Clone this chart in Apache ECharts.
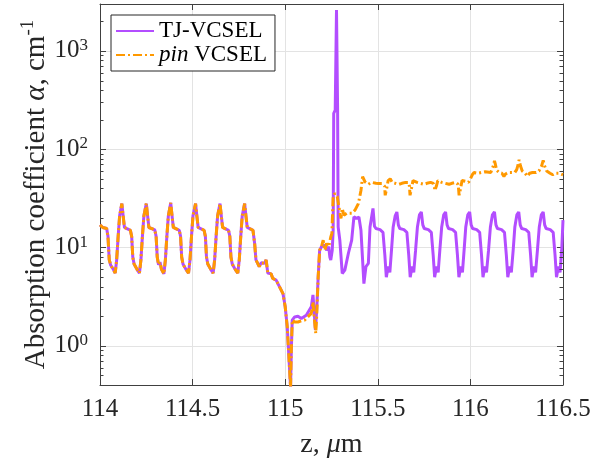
<!DOCTYPE html>
<html>
<head>
<meta charset="utf-8">
<script src="https://cdn.jsdelivr.net/npm/echarts@6/dist/echarts.min.js"></script>
<style>
html,body{margin:0;padding:0;background:#fff;}
#chart{width:607px;height:460px;}
</style>
</head>
<body>
<div id="chart"></div>
<script>
// ---- data: [z (µm), alpha (cm^-1)] ----
const sharedPts = [
[114.000,17],[114.015,16],[114.036,15.6],[114.043,13],[114.050,7.5],[114.058,6.6],[114.066,6.8],[114.074,5.9],[114.082,5.5],[114.090,7.5],[114.098,13],[114.106,21],[114.118,28],
[114.125,21],[114.132,16],[114.148,15.5],[114.164,15],[114.171,13],[114.177,8],[114.184,6.8],[114.192,7.0],[114.200,6.0],[114.213,5.5],[114.221,7.5],[114.229,13],[114.237,21],[114.250,28],
[114.257,21],[114.264,16],[114.280,15.6],[114.296,15.1],[114.303,13],[114.309,8],[114.316,6.7],[114.324,7.1],[114.332,6.0],[114.345,5.4],[114.353,7.5],[114.361,13],[114.369,21],[114.382,28.5],
[114.389,21],[114.396,16],[114.412,15.5],[114.428,15],[114.435,13],[114.441,8],[114.448,6.8],[114.456,7.0],[114.464,6.0],[114.478,5.5],[114.486,7.5],[114.494,13],[114.502,21],[114.516,28],
[114.523,21],[114.530,16],[114.546,15.5],[114.562,15],[114.569,13],[114.575,8],[114.582,6.8],[114.590,7.0],[114.598,6.0],[114.611,5.5],[114.619,7.5],[114.627,13],[114.635,21],[114.648,28],
[114.655,21],[114.662,16],[114.678,15.5],[114.694,15],[114.701,13],[114.707,8],[114.714,6.8],[114.722,7.0],[114.730,6.0],[114.744,5.5],[114.752,7.5],[114.760,13],[114.768,21],[114.781,28],
[114.788,21],[114.795,16],[114.811,15.5],[114.826,15],[114.835,11],[114.842,7.5],[114.852,7.45],[114.860,6.4],[114.870,7.0],[114.879,6.9],[114.888,6.9],[114.897,7.5],[114.902,7.75],[114.906,5.5],
[114.915,5.25],[114.924,5.4],[114.933,4.85],[114.951,4.66],[114.960,4.48],[114.988,3.4],[115.000,2.5],[115.011,1.56],[115.018,0.9],[115.026,0.48],[115.029,0.38],[115.033,0.9]
];

const tjPts = [
[115.038,1.83],[115.051,1.97],[115.069,2.0],[115.087,1.9],[115.114,2.05],[115.141,2.5],[115.150,3.3],[115.156,2.3],[115.163,1.45],[115.170,2.3],[115.178,5.0],[115.186,9.4],
[115.196,10.2],[115.205,9.8],[115.214,10.6],[115.223,9.4],[115.235,10.2],[115.241,8.0],[115.246,7.45],[115.250,7.4],[115.254,9.4],[115.259,15],[115.262,232],[115.270,250],
[115.277,2600],[115.283,250],[115.286,16.2],[115.295,11.9],[115.308,5.45],[115.322,5.9],[115.341,8.7],[115.359,11.9],[115.371,20.5],[115.386,19.8],[115.398,20.5],[115.409,15],
[115.425,4.3],[115.436,6.4],[115.449,6.9],[115.458,16.2],[115.474,25],
[115.482,16.5],[115.490,15.6],[115.512,15.2],[115.528,14.3],[115.538,8.4],[115.546,5.0],[115.556,6.4],[115.565,5.6],[115.574,9.4],[115.583,16.2],[115.594,21],[115.603,23],
[115.611,17],[115.619,15.6],[115.641,15.2],[115.657,14.3],[115.667,8.4],[115.675,5.0],[115.685,6.4],[115.694,5.6],[115.704,9.4],[115.714,16.2],[115.725,21.5],[115.735,23],
[115.743,17],[115.751,15.6],[115.773,15.2],[115.789,14.3],[115.799,8.4],[115.807,5.0],[115.817,6.4],[115.826,5.6],[115.835,9.4],[115.845,16.2],[115.856,21.5],[115.866,23],
[115.874,17],[115.882,15.6],[115.904,15.2],[115.920,14.3],[115.930,8.4],[115.938,5.0],[115.948,6.4],[115.957,5.6],[115.966,9.4],[115.975,16.2],[115.986,21.5],[115.996,23],
[116.004,17],[116.012,15.6],[116.034,15.2],[116.050,14.3],[116.060,8.4],[116.068,5.0],[116.078,6.4],[116.087,5.6],[116.098,9.4],[116.108,16.2],[116.119,21.5],[116.130,23],
[116.138,17],[116.146,15.6],[116.168,15.2],[116.184,14.3],[116.194,8.4],[116.202,5.0],[116.212,6.4],[116.221,5.6],[116.231,9.4],[116.240,16.2],[116.251,21.5],[116.261,23],
[116.269,17],[116.277,15.6],[116.299,15.2],[116.315,14.3],[116.325,8.4],[116.333,5.0],[116.343,6.4],[116.352,5.6],[116.362,9.4],[116.372,16.2],[116.383,21.5],[116.393,23],
[116.401,17],[116.409,15.6],[116.431,15.2],[116.447,14.3],[116.457,8.4],[116.465,5.0],[116.475,6.4],[116.484,5.6],[116.493,9.4],[116.500,19]
];

const pinPts = [
[115.038,1.83],[115.051,1.75],[115.069,1.75],[115.087,1.8],[115.105,1.83],[115.141,2.14],[115.150,2.8],[115.156,2.0],[115.165,1.34],[115.170,2.0],[115.178,5.0],[115.186,9.4],
[115.196,10.2],[115.205,11.9],[115.214,9.4],[115.223,11],[115.235,10.2],[115.246,12.8],[115.252,13.9],[115.259,33],[115.268,35.6],[115.281,33],[115.290,26],[115.301,19.8],
[115.308,25],[115.317,21.3],[115.332,22.3],[115.359,22.3],[115.377,24],[115.395,28],[115.409,38],[115.418,52.5],[115.431,46.6],[115.449,44],[115.467,46],[115.490,45],
[115.504,44.8],[115.522,44.8],[115.531,46],[115.537,42],[115.540,34],[115.548,40],[115.556,48],[115.567,50],[115.578,46],[115.595,45],[115.615,44],[115.630,45],[115.650,46],
[115.665,46],[115.671,42],[115.674,34],[115.682,40],[115.690,48],[115.700,50],[115.712,46],[115.730,45],[115.750,44],[115.765,45],[115.785,46],[115.800,45],[115.805,42],
[115.808,38],[115.816,42],[115.824,48],[115.833,50],[115.845,46],[115.865,45],[115.885,44],[115.900,45],[115.920,46],[115.933,44],[115.936,40],[115.939,34],[115.947,40],
[115.955,48],[115.965,50],[115.977,47],[115.990,46],[116.000,50],[116.010,55],[116.020,58],[116.040,57],[116.060,58],[116.080,59],[116.110,58],[116.120,60],[116.124,68],
[116.130,76],[116.135,70],[116.142,61],[116.155,58],[116.170,57],[116.181,53],[116.190,56],[116.205,58],[116.225,58],[116.240,58],[116.250,62],[116.258,70],[116.263,78],
[116.270,68],[116.280,60],[116.295,57],[116.308,53],[116.320,57],[116.335,58],[116.355,58],[116.370,60],[116.385,68],[116.393,77],[116.400,68],[116.412,60],[116.430,57],
[116.445,55],[116.460,57],[116.480,57],[116.500,55]
];

const seriesNames = ['TJ-VCSEL', 'pin VCSEL'];
const xTicks = [114, 114.5, 115, 115.5, 116, 116.5];
const yRange = [0.4, 3000];

// ---- chart ----
const SERIF = "'Liberation Serif','Times New Roman',serif";
const TXT = '#262626';
const AX = '#404040';
const GRIDC = '#e3e3e3';
const chart = echarts.init(document.getElementById('chart'), null, {renderer: 'canvas'});

function isDecade(v) {
  const e = Math.log10(v);
  return Math.abs(e - Math.round(e)) < 1e-6;
}

const option = {
  animation: false,
  backgroundColor: '#fff',
  grid: {left: 100, right: 44, top: 4, bottom: 75, containLabel: false, outerBoundsMode: 'none'},
  legend: {
    orient: 'vertical',
    left: 111, top: 15,
    padding: [4, 8, 4, 4],
    itemGap: 0,
    itemWidth: 38, itemHeight: 14,
    borderColor: '#262626', borderWidth: 1, backgroundColor: '#fff',
    data: seriesNames,
    itemStyle: {opacity: 0},
    formatter: function (n) { return n === 'pin VCSEL' ? '{i|pin} VCSEL' : n; },
    textStyle: {
      fontFamily: SERIF, fontSize: 23, color: '#000', lineHeight: 24,
      rich: {i: {fontFamily: SERIF, fontSize: 23, fontStyle: 'italic', color: '#000', lineHeight: 24}}
    }
  },
  xAxis: [{
    type: 'value', position: 'bottom', min: xTicks[0], max: xTicks[xTicks.length - 1], interval: 0.5,
    axisLine: {show: true, lineStyle: {color: AX, width: 1}},
    axisTick: {show: true, inside: true, length: 6, lineStyle: {color: AX}},
    axisLabel: {fontFamily: SERIF, fontSize: 25, color: TXT, margin: 12},
    splitLine: {show: true, lineStyle: {color: GRIDC, width: 1}},
    name: 'z, {m|μ}m', nameLocation: 'middle', nameGap: 46, nameMoveOverlap: false,
    nameTextStyle: {fontFamily: SERIF, fontSize: 28, color: TXT,
      rich: {m: {fontFamily: SERIF, fontSize: 28, fontStyle: 'italic', color: TXT}}}
  }, {
    type: 'value', position: 'top', min: xTicks[0], max: xTicks[xTicks.length - 1], interval: 0.5,
    axisLine: {show: true, lineStyle: {color: AX, width: 1}},
    axisTick: {show: true, inside: true, length: 6, lineStyle: {color: AX}},
    axisLabel: {show: false}, splitLine: {show: false}
  }],
  yAxis: [{
    type: 'log', logBase: 10, position: 'left', min: yRange[0], max: yRange[1],
    axisLine: {show: true, lineStyle: {color: AX, width: 1}},
    axisTick: {show: true, inside: true, length: 6, lineStyle: {color: AX}},
    splitLine: {show: true, lineStyle: {color: GRIDC, width: 1}},
    axisLabel: {
      margin: 12, color: TXT,
      showMinLabel: false, showMaxLabel: false,
      formatter: function (v) {
        if (!isDecade(v)) return '';
        return '{b|10}{s|' + Math.round(Math.log10(v)) + '}';
      },
      rich: {
        b: {fontFamily: SERIF, fontSize: 25, color: TXT, lineHeight: 28},
        s: {fontFamily: SERIF, fontSize: 17, color: TXT, verticalAlign: 'top', lineHeight: 17}
      }
    },
    name: '{n|Absorption coefficient }{a|α}{n|, cm}{s|-1}',
    nameLocation: 'middle', nameGap: 47, nameRotate: 90, nameMoveOverlap: false,
    nameTextStyle: {
      rich: {
        n: {fontFamily: SERIF, fontSize: 29, color: TXT, lineHeight: 34},
        a: {fontFamily: SERIF, fontSize: 29, fontStyle: 'italic', color: TXT, lineHeight: 34},
        s: {fontFamily: SERIF, fontSize: 19, color: TXT, verticalAlign: 'top', lineHeight: 19}
      }
    }
  }, {
    type: 'log', logBase: 10, position: 'right', min: yRange[0], max: yRange[1],
    axisLine: {show: true, lineStyle: {color: AX, width: 1}},
    axisTick: {show: true, inside: true, length: 6, lineStyle: {color: AX}},
    axisLabel: {show: false}, splitLine: {show: false}
  }],
  series: [{
    name: seriesNames[0], type: 'line', xAxisIndex: 0, yAxisIndex: 0,
    data: sharedPts.concat(tjPts), showSymbol: false, symbol: 'none',
    lineStyle: {color: '#b34dff', width: 3}, itemStyle: {color: '#b34dff'}, z: 2
  }, {
    name: seriesNames[1], type: 'line', xAxisIndex: 0, yAxisIndex: 0,
    data: sharedPts.concat(pinPts), showSymbol: false, symbol: 'none',
    lineStyle: {color: '#ff9900', width: 3, type: [9, 3, 2, 3]}, itemStyle: {color: '#ff9900'}, z: 3
  }]
};
chart.setOption(option);

// minor ticks for log y axis (left and right, inward)
const xl = chart.convertToPixel({xAxisIndex: 0}, xTicks[0]);
const xr = chart.convertToPixel({xAxisIndex: 0}, xTicks[xTicks.length - 1]);
const minor = [];
for (let k = -1; k <= 3; k++) {
  for (let m = 2; m <= 9; m++) {
    const v = m * Math.pow(10, k);
    if (v <= yRange[0] || v >= yRange[1]) continue;
    const py = Math.round(chart.convertToPixel({yAxisIndex: 0}, v)) + 0.5;
    minor.push({type: 'line', shape: {x1: xl, y1: py, x2: xl + 3.5, y2: py}, style: {stroke: AX, lineWidth: 1}, z: 10});
    minor.push({type: 'line', shape: {x1: xr, y1: py, x2: xr - 3.5, y2: py}, style: {stroke: AX, lineWidth: 1}, z: 10});
  }
}
chart.setOption({graphic: minor});
</script>
</body>
</html>
